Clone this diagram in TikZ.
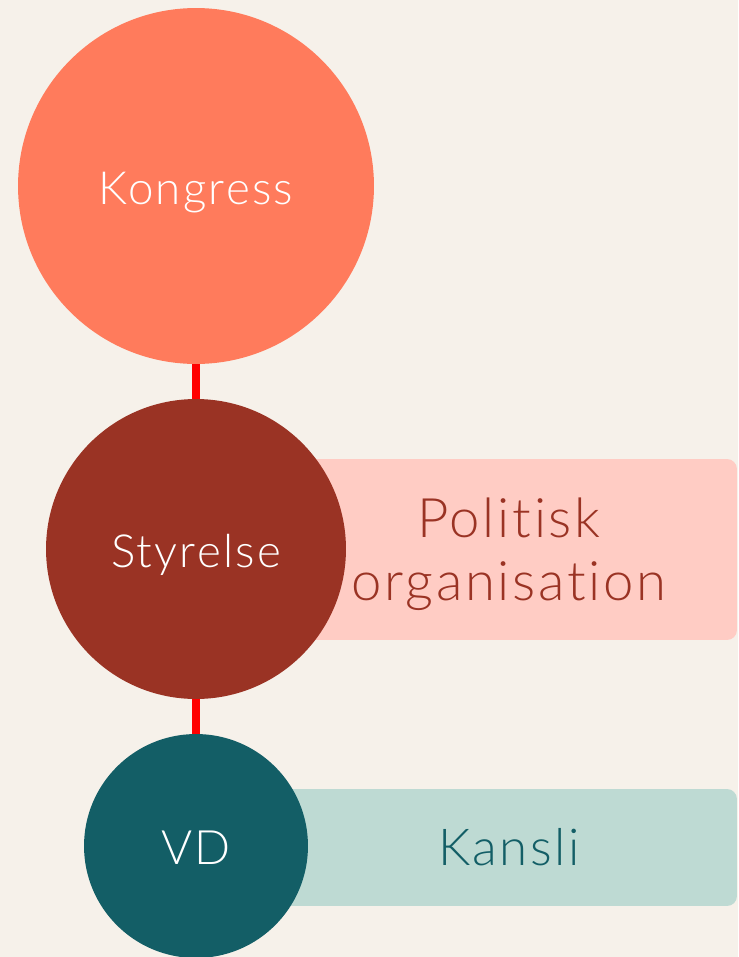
\documentclass[tikz,border=0pt]{standalone}
\usepackage{fontspec}
\setmainfont{Lato}[UprightFont=* Light, Ligatures=NoCommon, LetterSpace=5]
\usepackage{tikz}
\usetikzlibrary{positioning}

\definecolor{bgbeige}{HTML}{F6F1EA}
\definecolor{kongressorange}{HTML}{FF7B5C}
\definecolor{styrelsered}{HTML}{9A3324}
\definecolor{vdteal}{HTML}{135E66}
\definecolor{politiskpink}{HTML}{FFCCC4}
\definecolor{kanslimint}{HTML}{BEDAD3}
\definecolor{linkred}{HTML}{FF0000}

\begin{document}
\begin{tikzpicture}[x=0.02cm, y=-0.02cm,
  orgcircle/.style={circle, inner sep=0pt, text=white, text height=0.72cm, text depth=0pt},
  orgbox/.style={rectangle, rounded corners=0.2cm, inner sep=0pt, minimum width=9.12cm, align=center},
  link/.style={linkred, line width=0.16cm}]
\fill[bgbeige] (0,0) rectangle (738,957);
\clip (0,0) rectangle (738,957);

% boxes behind the circles
\node[orgbox, fill=politiskpink, minimum height=3.62cm, text=styrelsered, text depth=0pt,
  font=\fontsize{31}{36}\selectfont] (politisk) at (509,549.5) {Politisk\\organisation};
\node[orgbox, fill=kanslimint, minimum height=2.34cm, text=vdteal, text height=0.72cm, text depth=0pt,
  font=\fontsize{29}{34}\selectfont] (kansli) at (509,847.5) {Kansli};

% circles
\node[orgcircle, fill=kongressorange, minimum size=7.12cm,
  font=\fontsize{26}{30}\selectfont] (kongress) at (196,186) {Kongress};
\node[orgcircle, fill=styrelsered, minimum size=6cm,
  font=\fontsize{26}{30}\selectfont] (styrelse) at (196,549) {Styrelse};
\node[orgcircle, fill=vdteal, minimum size=4.48cm,
  font=\fontsize{27}{32}\selectfont] (vd) at (196,846) {VD};

% links
\draw[link] (kongress) -- (styrelse);
\draw[link] (styrelse) -- (vd);
\end{tikzpicture}
\end{document}
